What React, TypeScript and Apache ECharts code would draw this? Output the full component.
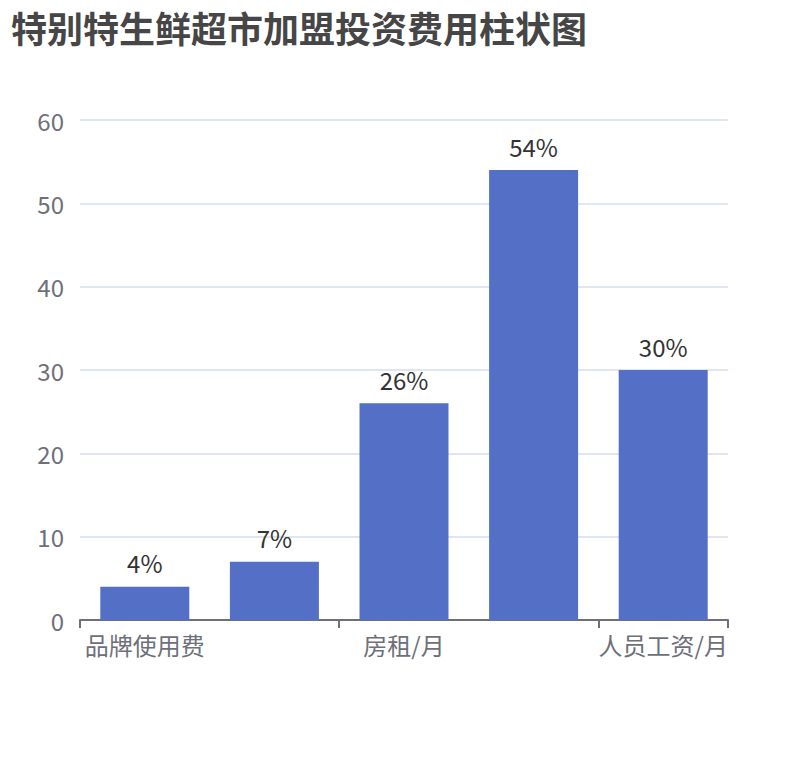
import React, { useEffect, useRef } from "react";
import * as echarts from "echarts";

const TITLE = "特别特生鲜超市加盟投资费用柱状图";
const categories = ["品牌使用费", "装修费用", "房租/月", "设备采购", "人员工资/月"];
const values = [4, 7, 26, 54, 30];

const FONT = "'Noto Sans CJK SC', 'Noto Sans', sans-serif";

export default function App() {
  const chartRef = useRef<HTMLDivElement>(null);

  useEffect(() => {
    document.body.style.margin = "0";
    if (!chartRef.current) return;
    const chart = echarts.init(chartRef.current, undefined, { renderer: "svg" });
    chart.setOption({
      animation: false,
      backgroundColor: "#fff",
      textStyle: { fontFamily: FONT },
      title: {
        text: TITLE,
        left: 6,
        top: 4,
        textStyle: { fontSize: 36, fontWeight: "bold", color: "#464646", fontFamily: FONT },
      },
      grid: { left: 80, right: 82, top: 120, bottom: 140 },
      xAxis: {
        type: "category",
        data: categories,
        axisTick: { show: true, interval: 1, length: 8, lineStyle: { color: "#6E7079", width: 2 } },
        axisLine: { lineStyle: { color: "#6E7079", width: 2 } },
        axisLabel: { interval: 1, fontSize: 24, color: "#6E7079", margin: 12, fontFamily: FONT },
      },
      yAxis: {
        type: "value",
        min: 0,
        max: 60,
        interval: 10,
        axisLabel: { fontSize: 24, color: "#6E7079", margin: 16, fontFamily: FONT },
        splitLine: { lineStyle: { color: "#E0E6F1", width: 2 } },
      },
      series: [
        {
          type: "bar",
          data: values,
          barWidth: 89,
          itemStyle: { color: "#5470C6" },
          label: {
            show: true,
            position: "top",
            distance: 12,
            formatter: "{c}%",
            fontSize: 24,
            color: "#333",
            fontFamily: FONT,
          },
        },
      ],
    });
    return () => chart.dispose();
  }, []);

  return <div ref={chartRef} style={{ width: 810, height: 760 }} />;
}
